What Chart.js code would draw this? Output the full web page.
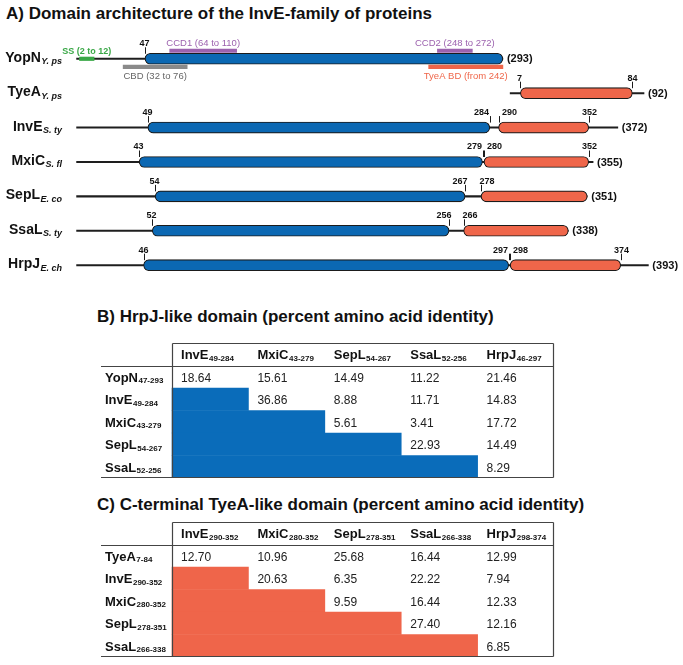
<!DOCTYPE html>
<html>
<head>
<meta charset="utf-8">
<script src="https://cdn.jsdelivr.net/npm/chart.js@4.4.0/dist/chart.umd.min.js"></script>
<style>
  body { margin: 0; background: #fff; font-family: "Liberation Sans", Arial, sans-serif; }
  #page { position: relative; width: 683px; height: 665px; overflow: hidden; }
  .ttl { position: absolute; font-weight: bold; font-size: 17px; line-height: 20px; color: #111; white-space: nowrap; }
  canvas { position: absolute; }
</style>
</head>
<body>
<div id="page">
  <div class="ttl" style="left:6px;top:4px">A) Domain architecture of the InvE-family of proteins</div>
  <canvas id="domains" width="683" height="300" style="left:0;top:0"></canvas>
  <div class="ttl" style="left:97px;top:307px">B) HrpJ-like domain (percent amino acid identity)</div>
  <canvas id="tableB" width="465" height="147" style="left:95px;top:337px"></canvas>
  <div class="ttl" style="left:97px;top:495px">C) C-terminal TyeA-like domain (percent amino acid identity)</div>
  <canvas id="tableC" width="465" height="147" style="left:95px;top:516px"></canvas>
</div>
<script>
// ---- A) domain architecture ----
var proteins = ['YopN', 'TyeA', 'InvE', 'MxiC', 'SepL', 'SsaL', 'HrpJ'];
var species = ['Y. ps', 'Y. ps', 'S. ty', 'S. fl', 'E. co', 'S. ty', 'E. ch'];
var lengths = [293, 92, 372, 355, 351, 338, 393];
var hrpjStart = [47, null, 49, 43, 54, 52, 46];
var hrpjEnd = [293, null, 284, 279, 267, 256, 297];
var tyeaStart = [null, 7, 290, 280, 278, 266, 298];
var tyeaEnd = [null, 84, 352, 352, 351, 338, 374];

// YopN features
var featureNames = ['SS (2 to 12)', 'CBD (32 to 76)', 'CCD1 (64 to 110)', 'CCD2 (248 to 272)', 'TyeA BD (from 242)'];
var featureStart = [2, 32, 64, 248, 242];
var featureEnd = [12, 76, 110, 272, 293];

// ---- B) HrpJ-like domain identity ----
var hrpjCols = ['InvE', 'MxiC', 'SepL', 'SsaL', 'HrpJ'];
var hrpjColRanges = ['49-284', '43-279', '54-267', '52-256', '46-297'];
var hrpjRows = ['YopN', 'InvE', 'MxiC', 'SepL', 'SsaL'];
var hrpjRowRanges = ['47-293', '49-284', '43-279', '54-267', '52-256'];
var hrpjIdentity = [
  [18.64, 15.61, 14.49, 11.22, 21.46],
  [null, 36.86, 8.88, 11.71, 14.83],
  [null, null, 5.61, 3.41, 17.72],
  [null, null, null, 22.93, 14.49],
  [null, null, null, null, 8.29]
];

// ---- C) TyeA-like domain identity ----
var tyeaCols = ['InvE', 'MxiC', 'SepL', 'SsaL', 'HrpJ'];
var tyeaColRanges = ['290-352', '280-352', '278-351', '266-338', '298-374'];
var tyeaRows = ['TyeA', 'InvE', 'MxiC', 'SepL', 'SsaL'];
var tyeaRowRanges = ['7-84', '290-352', '280-352', '278-351', '266-338'];
var tyeaIdentity = [
  [12.70, 10.96, 25.68, 16.44, 12.99],
  [null, 20.63, 6.35, 22.22, 7.94],
  [null, null, 9.59, 16.44, 12.33],
  [null, null, null, 27.40, 12.16],
  [null, null, null, null, 6.85]
];

var BLUE = '#0b68b3';
var ORANGE = '#ef664a';
var FONT = '"Liberation Sans", Arial, sans-serif';
var tyeaShift = 298; // TyeA is drawn under the C-terminal part

function shift(i) { return proteins[i] === 'TyeA' ? tyeaShift : 0; }

var backbone = [], hrpjBars = [], tyeaBars = [];
for (var i = 0; i < proteins.length; i++) {
  var s = shift(i);
  backbone.push({x: [s, s + lengths[i]], y: i});
  if (hrpjStart[i] !== null) hrpjBars.push({x: [s + hrpjStart[i], s + hrpjEnd[i]], y: i});
  if (tyeaStart[i] !== null) tyeaBars.push({x: [s + tyeaStart[i], s + tyeaEnd[i]], y: i});
}

var featureLook = {
  'SS': {axis: 'y', color: '#3aa847', font: 'bold 9px ' + FONT},
  'CBD': {axis: 'yBelow', color: '#8a8a8a', text: '#666', font: '9.5px ' + FONT},
  'CCD1': {axis: 'yAbove', color: '#9c62ae', font: '9.5px ' + FONT},
  'CCD2': {axis: 'yAbove', color: '#9c62ae', font: '9.5px ' + FONT},
  'TyeA BD': {axis: 'yBelow', color: ORANGE, font: '9.5px ' + FONT}
};
function look(name) { return featureLook[name.split(' (')[0]]; }

var datasets = [
  {data: hrpjBars, backgroundColor: BLUE, borderColor: '#1b1b1b', borderWidth: 1.1,
   borderRadius: 6, borderSkipped: false, barThickness: 11, grouped: false, order: 0},
  {data: tyeaBars, backgroundColor: ORANGE, borderColor: '#1b1b1b', borderWidth: 1.1,
   borderRadius: 6, borderSkipped: false, barThickness: 11, grouped: false, order: 0},
  {data: backbone, backgroundColor: '#1e1e1e', borderWidth: 0, barThickness: 1.4, grouped: false, order: 2}
];
featureNames.forEach(function(n, k) {
  var lk = look(n);
  datasets.push({data: [{x: [featureStart[k], featureEnd[k]], y: 0}], yAxisID: lk.axis,
    backgroundColor: lk.color, borderWidth: 0, barThickness: 3.5, grouped: false, order: 1});
});

function tick(ctx, px, y) {
  ctx.beginPath();
  ctx.moveTo(px, y - 5);
  ctx.lineTo(px, y - 11.5);
  ctx.stroke();
}

var domainLabels = {
  id: 'domainLabels',
  afterDatasetsDraw: function(chart) {
    var ctx = chart.ctx, xs = chart.scales.x, ys = chart.scales.y;
    ctx.save();
    ctx.fillStyle = '#111';
    ctx.strokeStyle = '#1b1b1b';
    ctx.lineWidth = 1;
    proteins.forEach(function(p, i) {
      var y = ys.getPixelForValue(i);
      var s = shift(i);
      var px = function(r) { return Math.round(xs.getPixelForValue(s + r)) + 0.5; };
      // protein name with species subscript
      ctx.textAlign = 'right';
      ctx.textBaseline = 'alphabetic';
      ctx.font = 'bold italic 9px ' + FONT;
      ctx.fillText(species[i], 62, y + 5.5);
      var w = ctx.measureText(species[i]).width;
      ctx.font = 'bold 14px ' + FONT;
      ctx.fillText(p, 62 - w - 0.5, y + 3);
      // total length
      ctx.textAlign = 'left';
      ctx.textBaseline = 'middle';
      ctx.font = 'bold 11px ' + FONT;
      ctx.fillText('(' + lengths[i] + ')', xs.getPixelForValue(s + lengths[i]) + 4, y + 0.5);
      // residue ticks
      ctx.font = 'bold 9px ' + FONT;
      ctx.textBaseline = 'alphabetic';
      var ty = y - 12.5;
      var both = hrpjStart[i] !== null && tyeaStart[i] !== null;
      if (hrpjStart[i] !== null) {
        tick(ctx, px(hrpjStart[i]), y);
        ctx.textAlign = 'center';
        ctx.fillText(String(hrpjStart[i]), px(hrpjStart[i]) - 1, ty);
      }
      if (both) {
        var pe = px(hrpjEnd[i]), ps = px(tyeaStart[i]);
        var close = ps - pe < 10;
        tick(ctx, pe, y);
        tick(ctx, ps, y);
        ctx.textAlign = 'right';
        ctx.fillText(String(hrpjEnd[i]), close ? pe - 1.5 : pe + 2, ty);
        ctx.textAlign = 'left';
        ctx.fillText(String(tyeaStart[i]), close ? ps + 2.5 : ps - 2, ty);
      } else if (tyeaStart[i] !== null) {
        tick(ctx, px(tyeaStart[i]), y);
        ctx.textAlign = 'center';
        ctx.fillText(String(tyeaStart[i]), px(tyeaStart[i]) - 1, ty);
      }
      if (tyeaStart[i] !== null && tyeaEnd[i] < lengths[i]) {
        tick(ctx, px(tyeaEnd[i]), y);
        ctx.textAlign = 'center';
        ctx.fillText(String(tyeaEnd[i]), px(tyeaEnd[i]), ty);
      }
    });
    // YopN feature labels
    featureNames.forEach(function(n, k) {
      var lk = look(n);
      var sc = chart.scales[lk.axis];
      var cx = (xs.getPixelForValue(featureStart[k]) + xs.getPixelForValue(featureEnd[k])) / 2;
      var by = sc.getPixelForValue(0);
      ctx.font = lk.font;
      ctx.fillStyle = lk.text || lk.color;
      ctx.textAlign = 'center';
      ctx.textBaseline = 'alphabetic';
      ctx.fillText(n, cx, lk.axis === 'yBelow' ? by + 12.5 : by - 4.5);
    });
    ctx.restore();
  }
};

new Chart(document.getElementById('domains'), {
  type: 'bar',
  data: {datasets: datasets},
  options: {
    indexAxis: 'y',
    responsive: false,
    animation: false,
    events: [],
    plugins: {legend: {display: false}, tooltip: {enabled: false}},
    layout: {padding: 0},
    scales: {
      x: {type: 'linear', min: -52.65, max: 416.8, display: false, offset: false},
      y: {type: 'linear', axis: 'y', min: -1.709, max: 7.012, reverse: true, display: false, offset: false},
      yAbove: {type: 'linear', axis: 'y', min: -1.476, max: 7.245, reverse: true, display: false, offset: false},
      yBelow: {type: 'linear', axis: 'y', min: -1.942, max: 6.779, reverse: true, display: false, offset: false}
    }
  },
  plugins: [domainLabels]
});

// ---- tables ----
function drawSub(ctx, main, sub, x, y) {
  ctx.textAlign = 'left';
  ctx.textBaseline = 'alphabetic';
  ctx.fillStyle = '#111';
  ctx.font = 'bold 13px ' + FONT;
  ctx.fillText(main, x, y + 5);
  var w = ctx.measureText(main).width;
  ctx.font = 'bold 8px ' + FONT;
  ctx.fillText(sub, x + w + 0.5, y + 6.5);
}

function makeTable(id, cols, colRanges, rows, rowRanges, values, color) {
  var fills = [null];
  values.forEach(function(r) {
    var n = 0;
    while (n < r.length && r[n] === null) n++;
    fills.push(n > 0 ? [0, n] : null);
  });
  var grid = {
    id: 'grid',
    afterDatasetsDraw: function(chart) {
      var ctx = chart.ctx, xs = chart.scales.x, ys = chart.scales.y, a = chart.chartArea;
      var h = (a.bottom - a.top) / (rows.length + 1);
      var x0 = Math.round(xs.getPixelForValue(0)) + 0.5;
      var x5 = Math.round(xs.getPixelForValue(cols.length)) - 0.5;
      var top = Math.round(a.top) + 0.5, bot = Math.round(a.bottom) - 0.5;
      var head = Math.round(a.top + h) + 0.5;
      ctx.save();
      ctx.strokeStyle = '#444';
      ctx.lineWidth = 1.2;
      ctx.beginPath();
      ctx.moveTo(x0, top); ctx.lineTo(x5, top);
      ctx.moveTo(x0, top); ctx.lineTo(x0, bot);
      ctx.moveTo(x5, top); ctx.lineTo(x5, bot);
      ctx.moveTo(a.left, head); ctx.lineTo(x5, head);
      ctx.moveTo(a.left, bot); ctx.lineTo(x5, bot);
      ctx.stroke();
      cols.forEach(function(c, j) {
        drawSub(ctx, c, colRanges[j], xs.getPixelForValue(j) + 9, ys.getPixelForValue(0));
      });
      rows.forEach(function(r, i) {
        var cy = ys.getPixelForValue(i + 1);
        drawSub(ctx, r, rowRanges[i], a.left + 4, cy);
        ctx.font = '12px ' + FONT;
        ctx.fillStyle = '#222';
        values[i].forEach(function(v, j) {
          if (v === null) return;
          ctx.fillText(v.toFixed(2), xs.getPixelForValue(j) + 9, cy + 5);
        });
      });
      ctx.restore();
    }
  };
  new Chart(document.getElementById(id), {
    type: 'bar',
    data: {
      labels: [''].concat(rows),
      datasets: [{data: fills, backgroundColor: color, borderWidth: 0,
                  barPercentage: 1, categoryPercentage: 1}]
    },
    options: {
      indexAxis: 'y',
      responsive: false,
      animation: false,
      events: [],
      layout: {padding: {left: 6, right: 6, top: 6, bottom: 6}},
      plugins: {legend: {display: false}, tooltip: {enabled: false}},
      scales: {
        x: {type: 'linear', min: -0.93, max: cols.length, display: false},
        y: {type: 'category', offset: true, display: false}
      }
    },
    plugins: [grid]
  });
}

makeTable('tableB', hrpjCols, hrpjColRanges, hrpjRows, hrpjRowRanges, hrpjIdentity, '#0a6cba');
makeTable('tableC', tyeaCols, tyeaColRanges, tyeaRows, tyeaRowRanges, tyeaIdentity, '#ef654a');
</script>
</body>
</html>
